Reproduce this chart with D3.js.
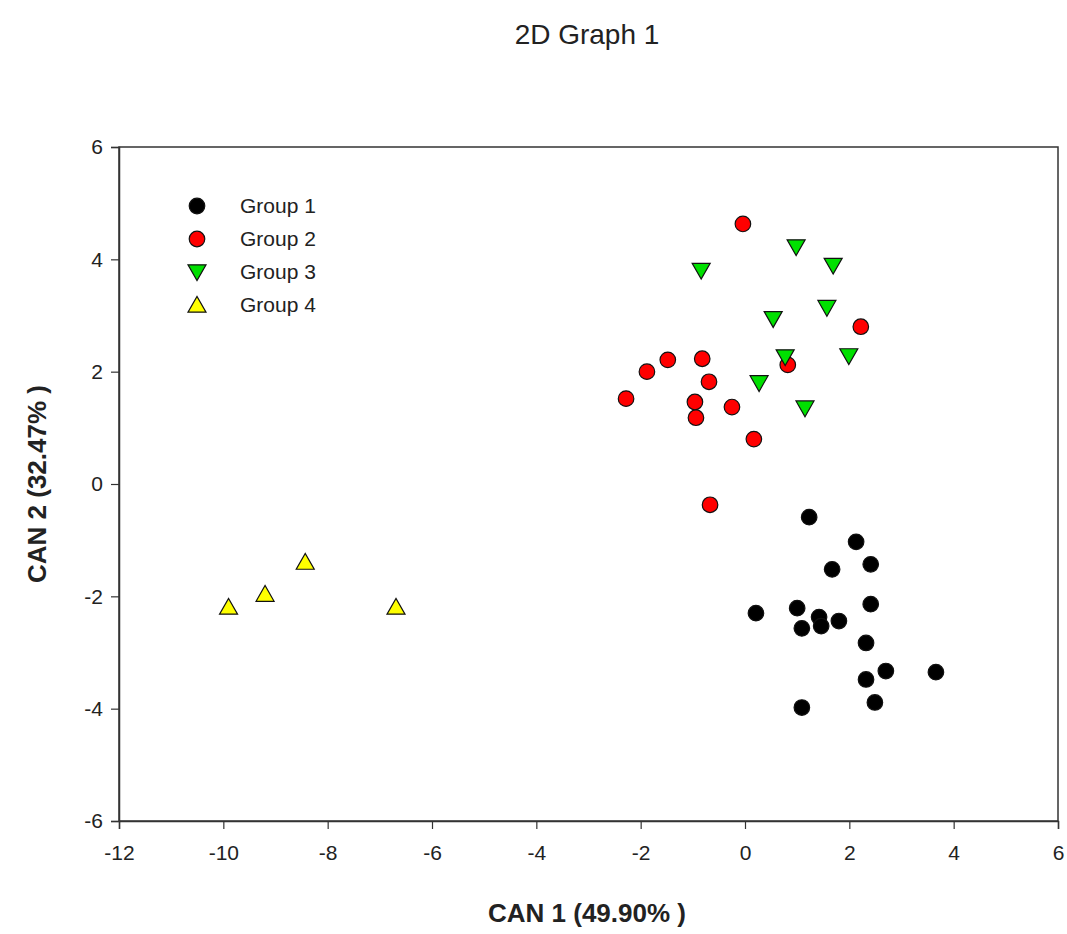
<!DOCTYPE html>
<html>
<head>
<meta charset="utf-8">
<script src="https://cdn.jsdelivr.net/npm/d3@7"></script>
<style>
  body { margin: 0; background: #fff; }
  text { font-family: "Liberation Sans", Arial, sans-serif; }
</style>
</head>
<body>
<div id="chart"></div>
<script>
var svgWidth = 1067;
var svgHeight = 934;

// data
var groups = ["Group 1", "Group 2", "Group 3", "Group 4"];
var groupColors = ["#000000", "#ff0000", "#00e000", "#ffff00"];
var groupShapes = ["circle", "circle", "triDown", "triUp"];

var group1X = [1.23, 2.13, 2.41, 1.67, 0.21, 1.00, 1.42, 1.09, 1.46, 1.80, 2.41, 2.32, 2.70, 3.66, 2.32, 2.49, 1.09];
var group1Y = [-0.59, -1.03, -1.43, -1.52, -2.30, -2.21, -2.37, -2.57, -2.53, -2.44, -2.14, -2.83, -3.33, -3.35, -3.48, -3.89, -3.98];

var group2X = [-0.04, 2.22, -1.48, -0.82, -1.88, -0.69, -2.28, -0.96, -0.94, -0.25, 0.82, 0.17, -0.67];
var group2Y = [4.63, 2.80, 2.21, 2.23, 2.00, 1.82, 1.52, 1.46, 1.18, 1.37, 2.12, 0.80, -0.37];

var group3X = [0.98, 1.69, -0.84, 1.57, 0.54, 0.77, 1.99, 0.27, 1.15];
var group3Y = [4.22, 3.89, 3.80, 3.14, 2.94, 2.26, 2.28, 1.80, 1.35];

var group4X = [-8.43, -9.20, -9.90, -6.69];
var group4Y = [-1.39, -1.96, -2.19, -2.19];

var xTicks = [-12, -10, -8, -6, -4, -2, 0, 2, 4, 6];
var yTicks = [-6, -4, -2, 0, 2, 4, 6];

var allX = [group1X, group2X, group3X, group4X];
var allY = [group1Y, group2Y, group3Y, group4Y];

var plotLeft = 119, plotRight = 1058, plotTop = 147, plotBottom = 821;

var svg = d3.select("#chart")
  .append("svg")
  .attr("width", svgWidth)
  .attr("height", svgHeight);

var x = d3.scaleLinear().domain([-12, 6]).range([plotLeft, plotRight]);
var y = d3.scaleLinear().domain([-6, 6]).range([plotBottom, plotTop]);

// title
svg.append("text")
  .attr("x", 587)
  .attr("y", 44)
  .attr("text-anchor", "middle")
  .attr("font-size", 28)
  .attr("fill", "#222")
  .text("2D Graph 1");

// frame
svg.append("rect")
  .attr("x", plotLeft)
  .attr("y", plotTop)
  .attr("width", plotRight - plotLeft)
  .attr("height", plotBottom - plotTop)
  .attr("fill", "none")
  .attr("stroke", "#333")
  .attr("stroke-width", 1.5);

// axes
var xAxis = svg.append("g")
  .attr("transform", "translate(0," + plotBottom + ")")
  .call(d3.axisBottom(x).tickValues(xTicks).tickSize(8).tickPadding(16).tickFormat(d3.format("d")));
var yAxis = svg.append("g")
  .attr("transform", "translate(" + plotLeft + ",0)")
  .call(d3.axisLeft(y).tickValues(yTicks).tickSize(8).tickPadding(8).tickFormat(d3.format("d")));

[xAxis, yAxis].forEach(function(a) {
  a.select(".domain").attr("stroke", "#333").attr("stroke-width", 1.5);
  a.selectAll(".tick line").attr("stroke", "#333").attr("stroke-width", 1.2);
  a.selectAll(".tick text")
    .attr("font-size", 21)
    .attr("fill", "#222")
    .style("font-family", "'Liberation Sans', Arial, sans-serif")
    .text(function(d) { return d < 0 ? "-" + Math.abs(d) : d; });
});

// axis titles
svg.append("text")
  .attr("x", 587)
  .attr("y", 922)
  .attr("text-anchor", "middle")
  .attr("font-size", 26)
  .attr("font-weight", "bold")
  .attr("fill", "#222")
  .text("CAN 1 (49.90% )");

svg.append("text")
  .attr("transform", "translate(46," + 484 + ") rotate(-90)")
  .attr("text-anchor", "middle")
  .attr("font-size", 26)
  .attr("font-weight", "bold")
  .attr("fill", "#222")
  .text("CAN 2 (32.47% )");

function markerPath(shape) {
  if (shape == "circle") return d3.symbol().type(d3.symbolCircle).size(190)();
  var s = 9;
  if (shape == "triDown") return "M" + (-s) + "," + (-s * 0.8) + "L" + s + "," + (-s * 0.8) + "L0," + (s * 0.95) + "Z";
  return "M" + (-s) + "," + (s * 0.8) + "L" + s + "," + (s * 0.8) + "L0," + (-s * 0.95) + "Z";
}

// points
groups.forEach(function(g, gi) {
  var pts = allX[gi].map(function(v, i) { return [v, allY[gi][i]]; });
  svg.append("g").selectAll("path")
    .data(pts)
    .enter()
    .append("path")
    .attr("transform", function(d) { return "translate(" + x(d[0]) + "," + y(d[1]) + ")"; })
    .attr("d", markerPath(groupShapes[gi]))
    .attr("fill", groupColors[gi])
    .attr("stroke", "#111")
    .attr("stroke-width", 1.2);
});

// legend
var legend = svg.append("g");
groups.forEach(function(g, gi) {
  var ly = 206 + gi * 33;
  legend.append("path")
    .attr("transform", "translate(197," + ly + ")")
    .attr("d", markerPath(groupShapes[gi]))
    .attr("fill", groupColors[gi])
    .attr("stroke", "#111")
    .attr("stroke-width", 1.2);
  legend.append("text")
    .attr("x", 240)
    .attr("y", ly + 7)
    .attr("font-size", 21)
    .attr("fill", "#222")
    .text(g);
});
</script>
</body>
</html>
